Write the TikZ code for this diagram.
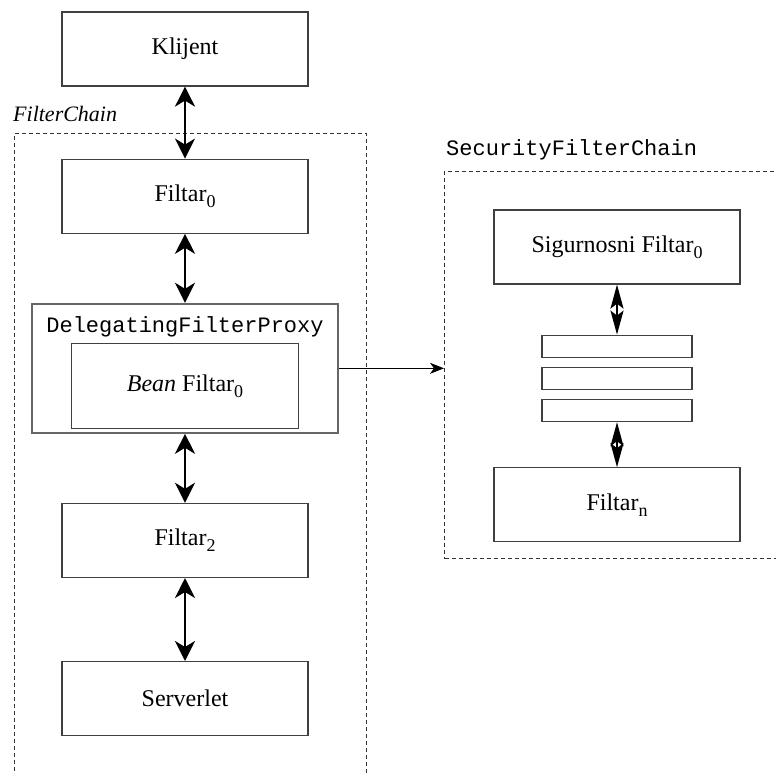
\documentclass[tikz,border=0pt]{standalone}
\usepackage{fontspec}
\setmainfont{Liberation Serif}
\setmonofont{Liberation Mono}
\usetikzlibrary{arrows.meta,positioning}
\newcommand{\subidx}[1]{\raisebox{-6pt}{\fontsize{18}{20}\selectfont #1}}
\tikzstyle{dblarrow} = [line width=2.5pt,{Stealth[length=20pt,width=20pt,inset=6pt]}-{Stealth[length=20pt,width=20pt,inset=6pt]}]
\tikzstyle{thinarrow} = [line width=2pt,{Stealth[length=24pt,width=13pt,inset=5pt]}-{Stealth[length=24pt,width=13pt,inset=5pt]}]
\tikzstyle{arrow} = [line width=1pt,-{Stealth[length=14pt,width=11pt,inset=4pt]}]
\tikzset{box/.style={rectangle,draw=black!75,line width=1.2pt,minimum width=246pt,minimum height=74pt,inner sep=0pt,font=\fontsize{24}{28}\selectfont},
bar/.style={rectangle,draw=black!75,line width=1.2pt,minimum width=150pt,minimum height=22pt,inner sep=0pt},
chain/.style={rectangle,draw=black!80,line width=1pt,dash pattern=on 4pt off 3pt,inner sep=0pt},
monolabel/.style={font=\fontsize{22}{26}\ttfamily,inner sep=0pt}}

\begin{document}
\begin{tikzpicture}[x=1pt,y=-1pt]
    \useasboundingbox (0,0) rectangle (776,773);
    \clip (0,0) rectangle (776,773);

    % dashed chains
    \node [chain, anchor=north west, minimum width=352pt, minimum height=700pt] (filterchain) at (14,133) {};
    \node [chain, anchor=north west, minimum width=370pt, minimum height=387pt] (secchain) at (444,171) {};
    \node [anchor=base west, inner sep=0pt, font=\fontsize{22}{26}\selectfont\itshape] (filterchainlabel) at (13,122) {FilterChain};
    \node [monolabel, anchor=base west] (secchainlabel) at (446,156) {SecurityFilterChain};

    % filter chain
    \node [box] (klijent) at (185,49) {Klijent};
    \node [box, below=72pt of klijent] (filtar0) {Filtar\subidx{0}};
    \node [rectangle, draw=black!60, line width=2pt, minimum width=306pt, minimum height=129pt, below=69pt of filtar0] (dfp) {};
    \node [monolabel, anchor=base] (dfplabel) at ([yshift=-30pt]dfp.north) {DelegatingFilterProxy};
    \node [box, minimum width=227pt, minimum height=85pt] (bean) at ([yshift=-18pt]dfp.center) {\textit{Bean} Filtar\subidx{0}};
    \node [box, below=69pt of dfp] (filtar2) {Filtar\subidx{2}};
    \node [box, below=83pt of filtar2] (serverlet) {Serverlet};

    % security filter chain
    \node [box] (sigurnosni) at (617,247) {Sigurnosni Filtar\subidx{0}};
    \node [bar, below=50pt of sigurnosni] (bar1) {};
    \node [bar, below=9pt of bar1] (bar2) {};
    \node [bar, below=9pt of bar2] (bar3) {};
    \node [box, below=45pt of bar3] (filtarn) {Filtar\subidx{n}};

    \draw [dblarrow] (klijent) -- (filtar0);
    \draw [dblarrow] (filtar0) -- (dfp);
    \draw [dblarrow] (dfp) -- (filtar2);
    \draw [dblarrow] (filtar2) -- (serverlet);
    \draw [thinarrow] (sigurnosni) -- (bar1);
    \draw [thinarrow] (bar3) -- (filtarn);
    \draw [arrow] (dfp.east) -- (dfp.east -| secchain.west);
\end{tikzpicture}
\end{document}
